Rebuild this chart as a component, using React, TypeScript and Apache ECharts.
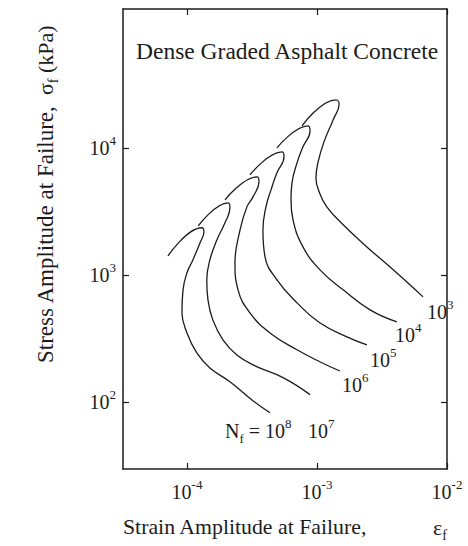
import React, { useEffect, useRef } from "react";
import * as echarts from "echarts";

const SERIF = "Liberation Serif, Times New Roman, serif";
const INK = "#1c1c1c";

// axis ranges and tick labels (log-log)
const X_TICKS = [1e-4, 1e-3, 1e-2];
const Y_TICKS = [1e2, 1e3, 1e4];
const X_MIN = 3.22e-5;
const X_MAX = 1e-2;
const Y_MIN = 29.6;
const Y_MAX = 1.24e5;

// fatigue curves: number of cycles to failure N_f = 10^exp
const CYCLE_EXPONENTS = [3, 4, 5, 6, 7, 8];

const STRAIN_N3 = [7.67e-4, 1.40e-3, 1.48e-3, 1.33e-3, 1.13e-3, 1.02e-3, 9.82e-4, 1.04e-3, 1.19e-3, 1.59e-3, 2.42e-3, 3.84e-3, 6.54e-3];
const STRESS_N3 = [14900, 23900, 22200, 16600, 11100, 7760, 5800, 4500, 3430, 2480, 1660, 1100, 671];

const STRAIN_N4 = [4.92e-4, 8.53e-4, 8.84e-4, 7.80e-4, 7.02e-4, 6.42e-4, 6.31e-4, 6.54e-4, 7.80e-4, 1.05e-3, 1.59e-3, 2.56e-3, 4.12e-3];
const STRESS_N4 = [10000, 14900, 13600, 10200, 7620, 5300, 3900, 2710, 1660, 1100, 762, 530, 426];

const STRAIN_N5 = [3.05e-4, 5.38e-4, 5.58e-4, 4.92e-4, 4.43e-4, 4.05e-4, 3.84e-4, 3.98e-4, 4.92e-4, 7.02e-4, 1.05e-3, 1.70e-3, 2.42e-3];
const STRESS_N5 = [6130, 9300, 8500, 6360, 4670, 3430, 2260, 1390, 913, 602, 419, 325, 281];

const STRAIN_N6 = [1.96e-4, 3.46e-4, 3.58e-4, 3.22e-4, 2.89e-4, 2.56e-4, 2.34e-4, 2.47e-4, 3.05e-4, 4.35e-4, 7.02e-4, 1.05e-3, 1.50e-3];
const STRESS_N6 = [3900, 5910, 5400, 4110, 3430, 2260, 1240, 762, 502, 349, 257, 207, 175];

const STRAIN_N7 = [1.22e-4, 2.07e-4, 2.14e-4, 1.96e-4, 1.70e-4, 1.50e-4, 1.42e-4, 1.45e-4, 1.58e-4, 1.89e-4, 2.42e-4, 3.34e-4, 5.48e-4, 8.84e-4];
const STRESS_N7 = [2430, 3690, 3370, 2570, 1890, 1310, 913, 636, 442, 308, 234, 192, 155, 114];

const STRAIN_N8 = [7.14e-5, 1.30e-4, 1.35e-4, 1.26e-4, 1.11e-4, 1.0e-4, 9.32e-5, 9.15e-5, 1.0e-4, 1.19e-4, 1.50e-4, 2.14e-4, 3.22e-4, 4.35e-4];
const STRESS_N8 = [1410, 2350, 2180, 1790, 1310, 1040, 762, 502, 349, 243, 185, 144, 102, 82];

const STRAINS = [STRAIN_N3, STRAIN_N4, STRAIN_N5, STRAIN_N6, STRAIN_N7, STRAIN_N8];
const STRESSES = [STRESS_N3, STRESS_N4, STRESS_N5, STRESS_N6, STRESS_N7, STRESS_N8];

// pixel offsets of each curve label from the curve's last point (styling only)
const LABEL_OFFSETS: [number, number][] = [
  [4, 15],
  [-2, 13],
  [3, 15],
  [2, 14],
  [-2, 36],
  [-45, 18],
];

const TITLE = "Dense Graded Asphalt Concrete";
const X_NAME = "Strain Amplitude at Failure,";
const Y_NAME = "Stress Amplitude at Failure,";

const AXIS_RICH = {
  b: { fontSize: 20, lineHeight: 28, fontFamily: SERIF, color: INK, verticalAlign: "middle" },
  s: { fontSize: 13, lineHeight: 13, fontFamily: SERIF, color: INK, verticalAlign: "top" },
};

const G_RICH = (main: number, small: number) => ({
  b: { font: `${main}px ${SERIF}`, fontSize: main, fontFamily: SERIF, lineHeight: main + 8, fill: INK, verticalAlign: "middle" },
  s: { font: `${small}px ${SERIF}`, fontSize: small, fontFamily: SERIF, lineHeight: small, fill: INK, verticalAlign: "top" },
  u: { font: `${small}px ${SERIF}`, fontSize: small, fontFamily: SERIF, lineHeight: small, fill: INK, verticalAlign: "bottom" },
});

const powLabel = (v: number) => `{b|10}{s|${Math.round(Math.log10(v))}}`;

const lineStyle = { color: INK, width: 1.5 };
const tickStyle = { color: INK, width: 1.2 };

function makeX(position: "bottom" | "top", showLabel: boolean) {
  return {
    type: "log",
    logBase: 10,
    min: X_MIN,
    max: X_MAX,
    position,
    axisLine: { show: true, onZero: false, lineStyle },
    axisTick: { show: true, inside: true, length: 6, customValues: X_TICKS, lineStyle: tickStyle },
    minorTick: { show: false },
    splitLine: { show: false },
    axisLabel: {
      show: showLabel,
      customValues: X_TICKS,
      margin: 9,
      fontFamily: SERIF,
      fontSize: 20,
      color: INK,
      formatter: powLabel,
      rich: AXIS_RICH,
    },
  };
}

function makeY(position: "left" | "right", showLabel: boolean) {
  return {
    type: "log",
    logBase: 10,
    min: Y_MIN,
    max: Y_MAX,
    position,
    axisLine: { show: true, onZero: false, lineStyle },
    axisTick: { show: true, inside: true, length: 6, customValues: Y_TICKS, lineStyle: tickStyle },
    minorTick: { show: false },
    splitLine: { show: false },
    axisLabel: {
      show: showLabel,
      customValues: Y_TICKS,
      margin: 7,
      fontFamily: SERIF,
      fontSize: 20,
      color: INK,
      formatter: powLabel,
      rich: AXIS_RICH,
    },
  };
}

export default function App() {
  const ref = useRef<HTMLDivElement>(null);

  useEffect(() => {
    if (!ref.current) return;
    const chart = echarts.init(ref.current, undefined, { renderer: "svg" });

    const series = CYCLE_EXPONENTS.map((exp, i) => ({
      type: "line",
      name: `1e${exp}`,
      xAxisIndex: 0,
      yAxisIndex: 0,
      data: STRAINS[i].map((x, j) => [x, STRESSES[i][j]]),
      showSymbol: false,
      symbol: "none",
      smooth: 0.45,
      silent: true,
      lineStyle: { color: INK, width: 1.3 },
    }));

    const staticGraphic: any[] = [
      {
        type: "text",
        x: 136,
        y: 51,
        style: { text: TITLE, fontSize: 23.5, fontFamily: SERIF, fill: INK, align: "left", verticalAlign: "middle" },
      },
      {
        type: "text",
        x: 123,
        y: 527,
        style: { text: X_NAME, fontSize: 21.8, fontFamily: SERIF, fill: INK, align: "left", verticalAlign: "middle" },
      },
      {
        type: "text",
        x: 433,
        y: 527,
        style: { text: "{b|ε}{u|f}", fontFamily: SERIF, rich: G_RICH(22, 14), align: "left", verticalAlign: "middle" },
      },
      {
        type: "text",
        x: 45,
        y: 363,
        rotation: Math.PI / 2,
        style: { text: Y_NAME, fontSize: 23, fontFamily: SERIF, fill: INK, align: "left", verticalAlign: "middle" },
      },
      {
        type: "text",
        x: 45,
        y: 95,
        rotation: Math.PI / 2,
        style: { text: "{b|σ}{u|f}{b| (kPa)}", fontFamily: SERIF, rich: G_RICH(22, 14), align: "left", verticalAlign: "middle" },
      },
    ];

    chart.setOption({
      animation: false,
      backgroundColor: "#ffffff",
      textStyle: { fontFamily: SERIF, color: INK },
      grid: { left: 123, right: 21, top: 9, bottom: 77 },
      xAxis: [makeX("bottom", true), makeX("top", false)],
      yAxis: [makeY("left", true), makeY("right", false)],
      series,
    });

    const labels = CYCLE_EXPONENTS.map((exp, i) => {
      const n = STRAINS[i].length - 1;
      const p = chart.convertToPixel({ seriesIndex: i }, [STRAINS[i][n], STRESSES[i][n]]) as number[];
      const off = LABEL_OFFSETS[i];
      const text = exp === 8 ? `{b|N}{u|f}{b| = 10}{s|${exp}}` : `{b|10}{s|${exp}}`;
      return {
        type: "text",
        x: p[0] + off[0],
        y: p[1] + off[1],
        style: { text, fontFamily: SERIF, rich: G_RICH(20, 13), align: "left", verticalAlign: "middle" },
      };
    });

    chart.setOption({ graphic: [...staticGraphic, ...labels] });

    return () => chart.dispose();
  }, []);

  return (
    <div
      ref={ref}
      style={{ position: "fixed", left: 0, top: 0, width: 468, height: 546, background: "#fff" }}
    />
  );
}
